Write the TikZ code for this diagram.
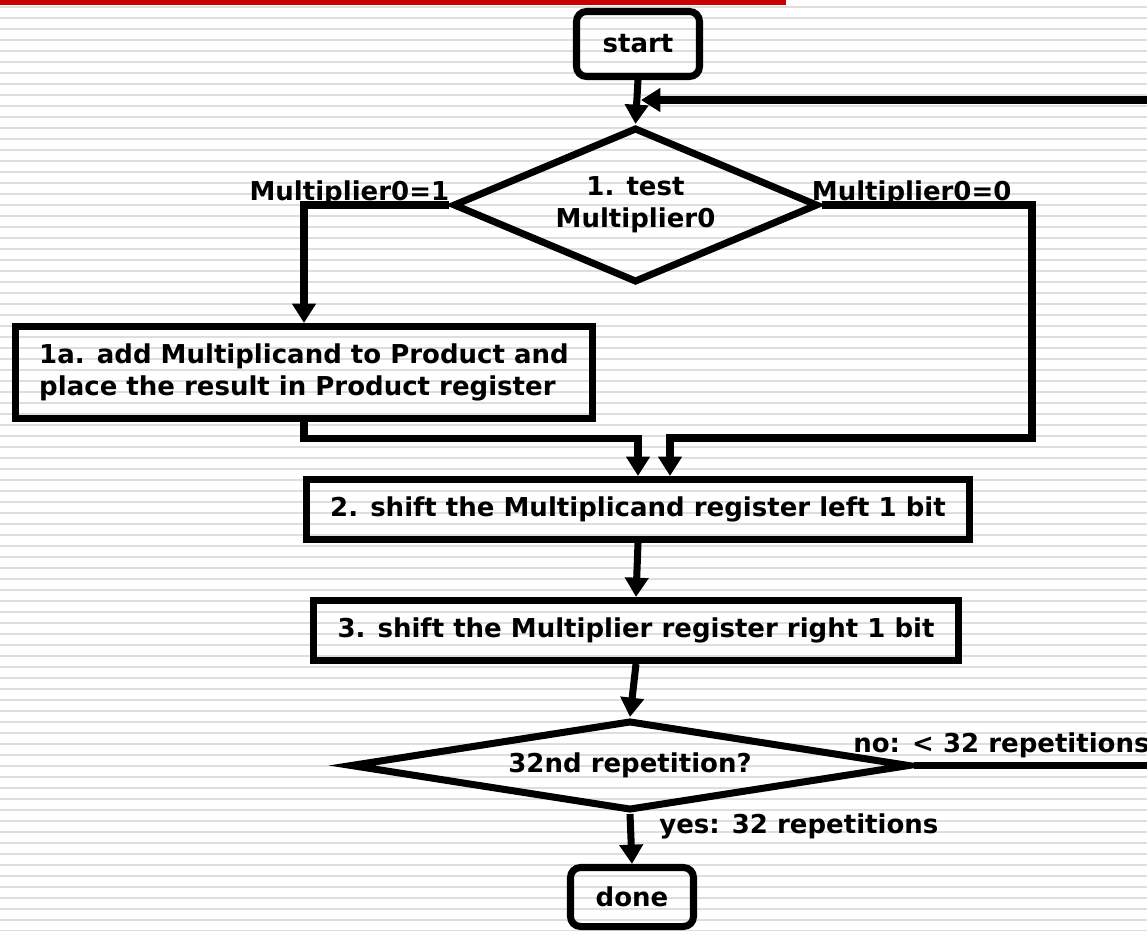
\documentclass[tikz,border=0pt]{standalone}
\usepackage{fontspec}
\setmainfont{DejaVu Sans}
\usetikzlibrary{shapes.geometric,arrows.meta}
\definecolor{barred}{RGB}{204,0,0}
\definecolor{stripe}{RGB}{222,222,222}

\begin{document}
\begin{tikzpicture}[x=0.2mm, y=-0.2mm,
    font=\bfseries\fontsize{14.8}{18}\selectfont,
    box/.style={draw, line width=4pt, inner sep=0pt},
    term/.style={box, rounded corners=2mm, minimum width=24.6mm},
    test/.style={box, diamond, align=center},
    flow/.style={line width=4pt, -{Triangle[length=11pt,width=13pt]}},
    lbl/.style={inner sep=0pt}]
    \useasboundingbox (0,0) rectangle (1147,930);
    \clip (0,0) rectangle (1147,930);
    % lined paper and the red bar on top
    \foreach \i in {0,...,84}
        \draw[stripe, line width=1pt] (0,7.3+11*\i) -- (1147,7.3+11*\i);
    \fill[barred] (0,0) rectangle (786,5);

    \node[term, minimum height=13mm] (start) at (638,44) {start};
    \node[test, aspect=2.35, minimum width=73mm, minimum height=31mm] (d1) at (635.5,205) {1. test\\Multiplier0};
    \node[box, align=left, minimum width=115.4mm, minimum height=18.4mm] (b1) at (304,372.5) {1a. add Multiplicand to Product and\\place the result in Product register};
    \node[box, minimum width=132.6mm, minimum height=12mm] (b2) at (638,509.5) {2. shift the Multiplicand register left 1 bit};
    \node[box, minimum width=129mm, minimum height=12mm] (b3) at (636,630.5) {3. shift the Multiplier register right 1 bit};
    \node[test, aspect=6.3, minimum width=112mm, minimum height=18mm] (d2) at (630,765.5) {32nd repetition?};
    \node[term, minimum height=11.8mm] (done) at (632,897) {done};

    \node[lbl, anchor=base east] (m1) at ([yshift=1mm]d1.west) {Multiplier0=1};
    \node[lbl, anchor=base west] (m0) at ([xshift=-2mm, yshift=1mm]d1.east) {Multiplier0=0};
    \node[lbl, anchor=base west] (no) at (853,752) {no: < 32 repetitions};
    \node[lbl, anchor=base west] (yes) at (659,833) {yes: 32 repetitions};

    \coordinate (jr) at (1032,438);
    \coordinate (ret) at (641,100);

    \draw[flow] (start.south) -- (d1.north);
    \draw[flow] (d1.west) -| (b1.north);
    \draw[flow] (d1.east) -| (jr) -| ([xshift=6.4mm]b2.north);
    \draw[flow] (b1.south) -- ++(0,16) -| (b2.north);
    \draw[flow] (b2.south) -- (b3.north);
    \draw[flow] (b3.south) -- (d2.north);
    \draw[flow] (d2.south) -- (done.north);
    \draw[flow] (d2.east) -- ++(300,0) |- (ret);
\end{tikzpicture}
\end{document}
